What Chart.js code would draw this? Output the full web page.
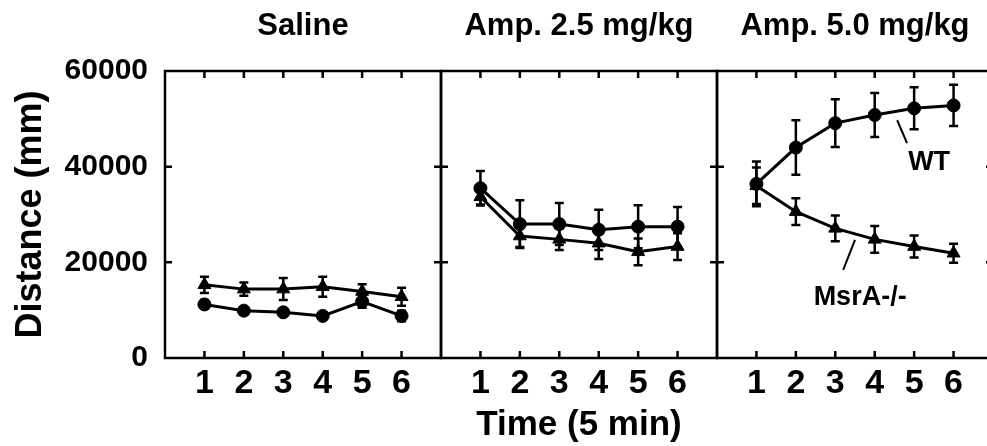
<!DOCTYPE html>
<html>
<head>
<meta charset="utf-8">
<title>Distance</title>
<script src="https://cdn.jsdelivr.net/npm/chart.js@4.4.1/dist/chart.umd.min.js"></script>
<style>
    html, body { margin: 0; padding: 0; background: #fff; overflow: hidden; }
    body { width: 987px; height: 446px; position: relative; }
    canvas { position: absolute; top: 0; }
</style>
</head>
<body>
<canvas id="saline" width="444" height="446" style="left:0"></canvas>
<canvas id="amp25" width="282" height="446" style="left:438px"></canvas>
<canvas id="amp50" width="282" height="446" style="left:714px"></canvas>
<script>
// time bins (5 min each) and y ticks
const timePoints = [1, 2, 3, 4, 5, 6];
const yTickValues = [0, 20000, 40000, 60000];

// Saline
const salineWT = [11200, 9900, 9550, 8800, 11800, 8800];
const salineWTErr = [900, 700, 700, 700, 1300, 1100];
const salineKO = [15300, 14400, 14400, 14900, 13900, 12800];
const salineKOErr = [1700, 1400, 2300, 2100, 1500, 1900];

// Amphetamine 2.5 mg/kg
const amp25WT = [35500, 28000, 28000, 26800, 27450, 27450];
const amp25WTErr = [3600, 5000, 4400, 4200, 4500, 4100];
const amp25KO = [33700, 25500, 24800, 24000, 22200, 23300];
const amp25KOErr = [1600, 2300, 2200, 3300, 2800, 2800];

// Amphetamine 5.0 mg/kg
const amp50WT = [36400, 44000, 49100, 50800, 52200, 52800];
const amp50WTErr = [4700, 5700, 5000, 4600, 4400, 4300];
const amp50KO = [36000, 30600, 27100, 24800, 23300, 21900];
const amp50KOErr = [3800, 2800, 2700, 2800, 2300, 2000];

const FONT = '"Liberation Sans", Arial, Helvetica, sans-serif';
Chart.defaults.font.family = FONT;
Chart.defaults.color = '#000';

// vertical error bars, drawn under the markers
const errorBars = {
    id: 'errorBars',
    beforeDatasetsDraw(chart) {
        const { ctx, scales: { x, y } } = chart;
        ctx.save();
        ctx.strokeStyle = '#000';
        ctx.lineWidth = 2.5;
        chart.data.datasets.forEach(ds => {
            ds.data.forEach((p, i) => {
                const px = x.getPixelForValue(p.x);
                const top = y.getPixelForValue(p.y + ds.err[i]);
                const bot = y.getPixelForValue(p.y - ds.err[i]);
                ctx.beginPath();
                ctx.moveTo(px, top); ctx.lineTo(px, bot);
                ctx.moveTo(px - 4.5, top); ctx.lineTo(px + 4.5, top);
                ctx.moveTo(px - 4.5, bot); ctx.lineTo(px + 4.5, bot);
                ctx.stroke();
            });
        });
        ctx.restore();
    }
};

// box around the plot with inward ticks on every side, plus the panel title
const frame = {
    id: 'frame',
    afterDraw(chart, args, opts) {
        const { ctx, chartArea: a, scales: { x, y } } = chart;
        const len = 7;
        ctx.save();
        ctx.strokeStyle = '#000';
        ctx.lineWidth = 2.5;
        ctx.strokeRect(a.left, a.top, a.right - a.left, a.bottom - a.top);
        ctx.beginPath();
        timePoints.forEach(t => {
            const px = x.getPixelForValue(t);
            ctx.moveTo(px, a.top); ctx.lineTo(px, a.top + len);
            ctx.moveTo(px, a.bottom); ctx.lineTo(px, a.bottom - len);
        });
        yTickValues.slice(1, -1).forEach(v => {
            const py = y.getPixelForValue(v);
            ctx.moveTo(a.left, py); ctx.lineTo(a.left + len, py);
            ctx.moveTo(a.right, py); ctx.lineTo(a.right - len, py);
        });
        ctx.stroke();

        ctx.fillStyle = '#000';
        ctx.font = 'bold 31px ' + FONT;
        ctx.textAlign = 'center';
        ctx.textBaseline = 'alphabetic';
        ctx.fillText(opts.text, (a.left + a.right) / 2, 35);
        ctx.restore();
    }
};

// WT / MsrA-/- labels with their leader lines
const curveLabels = {
    id: 'curveLabels',
    afterDraw(chart, args, opts) {
        const { ctx, scales: { x, y } } = chart;
        ctx.save();
        ctx.strokeStyle = '#000';
        ctx.lineWidth = 2;
        ctx.fillStyle = '#000';
        ctx.font = 'bold 27px ' + FONT;
        ctx.textAlign = 'center';
        ctx.textBaseline = 'alphabetic';
        opts.items.forEach(it => {
            ctx.beginPath();
            ctx.moveTo(x.getPixelForValue(it.from[0]), y.getPixelForValue(it.from[1]));
            ctx.lineTo(x.getPixelForValue(it.to[0]), y.getPixelForValue(it.to[1]));
            ctx.stroke();
            ctx.fillText(it.text, x.getPixelForValue(it.at[0]), y.getPixelForValue(it.at[1]));
        });
        ctx.restore();
    }
};

function series(label, values, err, style) {
    return {
        label: label,
        data: timePoints.map((t, i) => ({ x: t, y: values[i] })),
        err: err,
        borderColor: '#000',
        backgroundColor: '#000',
        borderWidth: 3,
        pointStyle: style,
        pointRadius: style === 'triangle' ? 7.5 : 6.5,
        pointBorderWidth: 1,
        tension: 0
    };
}

function makePanel(id, title, wt, wtErr, ko, koErr, extra) {
    const first = id === 'saline';
    const ctx = document.getElementById(id).getContext('2d');
    return new Chart(ctx, {
        type: 'line',
        data: {
            datasets: [
                series('MsrA-/-', ko, koErr, 'triangle'),
                series('WT', wt, wtErr, 'circle')
            ]
        },
        options: {
            responsive: false,
            animation: false,
            devicePixelRatio: 1,
            layout: {
                autoPadding: false,
                padding: { top: 71, left: first ? 0 : 3, right: 3, bottom: 0 }
            },
            plugins: {
                legend: { display: false },
                tooltip: { enabled: false },
                frame: { text: title },
                curveLabels: extra || { items: [] }
            },
            scales: {
                x: {
                    type: 'linear',
                    min: 0,
                    max: 7,
                    afterBuildTicks: s => { s.ticks = timePoints.map(v => ({ value: v })); },
                    afterFit: s => {
                        s.height = 88;
                        s.paddingLeft = 0;
                        s.paddingRight = 0;
                    },
                    ticks: {
                        font: { size: 34, weight: 'bold' },
                        color: '#000',
                        padding: 5,
                        maxRotation: 0,
                        autoSkip: false
                    },
                    grid: { display: false, drawTicks: false },
                    border: { display: false },
                    title: {
                        display: id === 'amp25',
                        text: 'Time (5 min)',
                        font: { size: 35, weight: 'bold' },
                        color: '#000',
                        padding: 0
                    }
                },
                y: {
                    type: 'linear',
                    display: first,
                    min: 0,
                    max: 60000,
                    afterBuildTicks: s => { s.ticks = yTickValues.map(v => ({ value: v })); },
                    afterFit: s => { s.width = first ? 165 : 0; },
                    ticks: {
                        callback: v => String(v),
                        font: { size: 30, weight: 'bold' },
                        color: '#000',
                        padding: 17
                    },
                    grid: { display: false, drawTicks: false },
                    border: { display: false },
                    title: {
                        display: true,
                        text: 'Distance (mm)',
                        font: { size: 36, weight: 'bold' },
                        color: '#000',
                        padding: { top: 9, bottom: 0 }
                    }
                }
            }
        },
        plugins: [errorBars, frame, curveLabels]
    });
}

makePanel('saline', 'Saline', salineWT, salineWTErr, salineKO, salineKOErr);
makePanel('amp25', 'Amp. 2.5 mg/kg', amp25WT, amp25WTErr, amp25KO, amp25KOErr);
makePanel('amp50', 'Amp. 5.0 mg/kg', amp50WT, amp50WTErr, amp50KO, amp50KOErr, {
    items: [
        { text: 'WT', from: [4.57, 49700], to: [4.82, 44900], at: [5.38, 39300] },
        { text: 'MsrA-/-', from: [3.5, 24700], to: [3.2, 18400], at: [3.63, 11100] }
    ]
});
</script>
</body>
</html>
